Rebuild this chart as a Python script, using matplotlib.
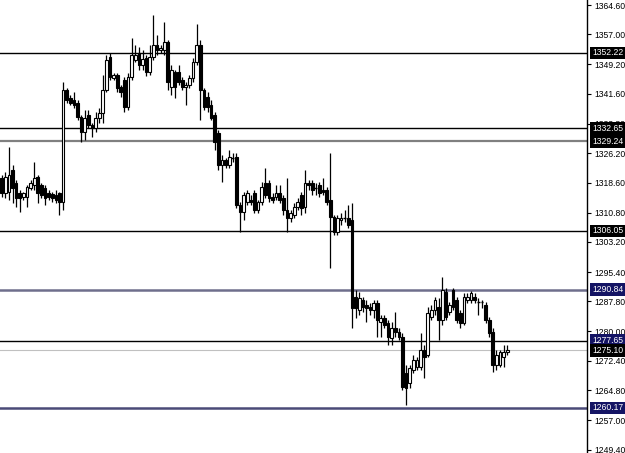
import numpy as np
import matplotlib
matplotlib.use("Agg")
import matplotlib.pyplot as plt
from matplotlib.patches import Rectangle
import matplotlib.transforms as mtransforms

plt.rcParams['font.family'] = ['Liberation Sans', 'DejaVu Sans']

# candle data (prices)
opens = [1319.8, 1315.9, 1316.2, 1321.9, 1318.5, 1315.9, 1314.9, 1314.9, 1317.2, 1318.0,
         1320.1, 1318.0, 1317.2, 1315.9, 1315.7, 1315.4, 1315.9, 1313.6, 1342.6, 1340.5,
         1340.0, 1339.2, 1335.6, 1331.7, 1336.1, 1333.5, 1332.7, 1335.3, 1336.6, 1342.6,
         1351.1, 1345.7, 1346.5, 1343.4, 1345.2, 1338.2, 1346.0, 1350.4, 1352.2, 1349.1,
         1350.9, 1347.3, 1351.1, 1354.2, 1352.9, 1352.9, 1355.0, 1343.4, 1347.3, 1347.3,
         1345.2, 1343.4, 1343.9, 1345.7, 1349.8, 1354.2, 1342.6, 1340.8, 1338.7, 1336.1,
         1331.5, 1323.2, 1324.4, 1323.2, 1325.0, 1325.2, 1312.8, 1311.0, 1313.6, 1314.1,
         1315.9, 1311.5, 1313.6, 1318.5, 1318.5, 1314.9, 1314.9, 1315.9, 1314.6, 1311.5,
         1309.4, 1310.2, 1312.3, 1315.4, 1312.3, 1318.5, 1318.5, 1317.2, 1318.0, 1316.7,
         1316.7, 1314.1, 1309.7, 1305.8, 1308.9, 1309.4, 1309.4, 1308.9, 1289.0, 1285.6,
         1288.2, 1286.9, 1286.4, 1285.6, 1287.4, 1282.5, 1283.5, 1282.2, 1278.3, 1280.9,
         1279.9, 1278.6, 1269.3, 1266.7, 1270.0, 1270.8, 1270.8, 1275.2, 1274.0, 1283.8,
         1285.6, 1286.4, 1283.0, 1290.3, 1285.1, 1290.8, 1288.2, 1284.8, 1282.2, 1288.2,
         1288.2, 1289.0, 1287.7, 1287.7, 1286.9, 1283.0, 1279.9, 1271.4, 1271.4, 1273.4,
         1274.7]
highs = [1320.6, 1321.3, 1327.8, 1323.2, 1319.3, 1316.7, 1316.2, 1318.0, 1319.3, 1323.9,
         1320.6, 1318.5, 1318.0, 1316.7, 1316.2, 1316.7, 1316.2, 1344.7, 1343.1, 1341.3,
         1342.1, 1340.0, 1336.1, 1337.4, 1337.4, 1334.0, 1336.9, 1337.9, 1346.5, 1351.7,
         1352.2, 1347.0, 1347.0, 1343.9, 1346.0, 1347.0, 1356.1, 1354.2, 1353.7, 1352.9,
         1351.7, 1354.2, 1362.0, 1356.8, 1354.2, 1360.2, 1355.5, 1349.1, 1347.8, 1349.1,
         1346.0, 1344.7, 1346.5, 1350.9, 1359.7, 1355.5, 1343.1, 1342.1, 1340.0, 1336.9,
         1332.2, 1325.8, 1325.0, 1327.0, 1326.3, 1326.3, 1313.6, 1316.2, 1316.7, 1315.4,
         1316.7, 1314.1, 1318.8, 1322.4, 1319.3, 1315.9, 1318.0, 1318.0, 1315.4, 1319.8,
         1311.5, 1313.3, 1314.6, 1316.2, 1321.9, 1319.3, 1319.3, 1318.5, 1318.8, 1319.8,
         1317.5, 1326.3, 1310.2, 1310.2, 1310.7, 1311.5, 1312.8, 1313.3, 1290.8, 1290.3,
         1289.0, 1288.2, 1287.4, 1288.2, 1288.2, 1284.3, 1284.3, 1283.0, 1282.5, 1285.1,
         1280.9, 1279.6, 1271.4, 1271.4, 1274.0, 1273.4, 1279.6, 1276.5, 1286.4, 1286.9,
         1289.0, 1288.7, 1294.2, 1291.3, 1287.7, 1291.3, 1289.0, 1285.6, 1290.0, 1290.0,
         1290.5, 1290.0, 1288.7, 1288.2, 1287.7, 1283.8, 1280.9, 1275.2, 1275.2, 1276.5,
         1276.5]
lows = [1314.9, 1314.6, 1314.1, 1313.3, 1312.3, 1311.0, 1314.1, 1312.3, 1316.7, 1316.7,
        1313.3, 1314.6, 1312.8, 1314.1, 1313.6, 1313.3, 1310.2, 1311.5, 1339.2, 1338.7,
        1337.9, 1334.8, 1329.1, 1329.6, 1332.7, 1330.4, 1331.7, 1334.0, 1334.0, 1342.1,
        1345.2, 1345.2, 1342.1, 1340.8, 1336.9, 1337.4, 1345.2, 1349.8, 1347.8, 1347.8,
        1346.2, 1346.5, 1350.4, 1351.7, 1352.2, 1351.7, 1342.6, 1341.3, 1340.5, 1343.9,
        1342.6, 1338.7, 1343.1, 1344.7, 1349.1, 1334.8, 1337.4, 1336.9, 1334.8, 1327.0,
        1321.9, 1318.8, 1322.4, 1322.4, 1323.9, 1312.0, 1305.8, 1308.9, 1312.8, 1312.8,
        1310.7, 1310.7, 1312.8, 1314.6, 1313.6, 1313.3, 1314.1, 1313.3, 1310.2, 1305.8,
        1308.4, 1309.4, 1311.5, 1310.2, 1310.7, 1316.7, 1315.4, 1315.4, 1314.9, 1315.4,
        1312.8, 1296.5, 1305.0, 1305.0, 1307.6, 1308.4, 1306.8, 1280.9, 1283.5, 1284.3,
        1285.1, 1282.5, 1284.3, 1283.5, 1278.6, 1278.6, 1280.9, 1276.5, 1276.5, 1278.6,
        1277.8, 1264.9, 1261.0, 1265.4, 1269.3, 1270.0, 1270.0, 1268.0, 1273.4, 1283.0,
        1284.3, 1277.8, 1281.7, 1283.0, 1284.3, 1285.6, 1282.2, 1280.9, 1281.7, 1287.4,
        1287.4, 1287.4, 1284.3, 1286.1, 1282.2, 1278.6, 1269.6, 1270.0, 1270.8, 1270.8,
        1274.0]
closes = [1315.9, 1320.1, 1320.6, 1317.2, 1314.6, 1314.6, 1315.9, 1317.5, 1318.5, 1319.8,
          1315.9, 1315.4, 1314.6, 1314.9, 1314.6, 1314.1, 1313.6, 1342.6, 1340.0, 1339.2,
          1338.7, 1335.6, 1331.7, 1335.3, 1333.5, 1332.7, 1335.3, 1336.6, 1342.6, 1350.4,
          1346.0, 1346.5, 1343.1, 1342.1, 1338.2, 1346.0, 1351.7, 1351.7, 1349.1, 1350.6,
          1347.3, 1351.1, 1354.2, 1352.9, 1353.5, 1355.0, 1344.7, 1347.8, 1343.4, 1344.7,
          1343.4, 1343.9, 1345.7, 1349.8, 1354.2, 1342.6, 1338.2, 1338.2, 1335.3, 1329.1,
          1323.2, 1324.4, 1323.2, 1325.2, 1325.2, 1312.8, 1311.0, 1315.4, 1315.9, 1313.6,
          1311.5, 1313.6, 1317.5, 1315.4, 1314.6, 1314.1, 1315.9, 1314.1, 1311.5, 1309.4,
          1310.7, 1312.3, 1313.6, 1312.0, 1318.5, 1318.0, 1316.7, 1317.5, 1315.9, 1316.2,
          1313.6, 1309.7, 1305.8, 1309.4, 1309.4, 1309.7, 1307.6, 1286.1, 1286.1, 1288.7,
          1286.4, 1286.1, 1285.6, 1287.4, 1283.0, 1283.5, 1281.7, 1278.6, 1280.9, 1279.9,
          1278.6, 1265.7, 1265.4, 1270.6, 1272.6, 1272.6, 1275.2, 1273.4, 1284.8, 1285.6,
          1288.2, 1283.0, 1290.8, 1283.8, 1286.9, 1286.4, 1283.0, 1282.2, 1289.0, 1289.0,
          1290.0, 1288.2, 1287.4, 1287.4, 1283.0, 1279.6, 1271.4, 1274.0, 1274.7, 1274.7,
          1275.1]

# horizontal levels
levels = [1352.22, 1332.65, 1329.24, 1306.05, 1290.84, 1277.65, 1275.10, 1260.17]
level_colors = ['black', 'black', '#808080', 'black', '#6e6e8c', 'black', '#c0c0c0', '#4a4a78']
level_widths = [1.0, 1.0, 1.6, 1.0, 1.8, 1.0, 0.8, 1.8]
label_bg = ['black', 'black', 'black', 'black', '#141464', '#141464', 'black', '#141464']

yticks = [1364.60, 1357.00, 1349.20, 1341.60, 1333.80, 1326.20, 1318.60, 1310.80,
          1303.20, 1295.40, 1287.80, 1280.00, 1272.40, 1264.80, 1257.00, 1249.40]

fig = plt.figure(figsize=(6.25, 4.53), dpi=100)
ax = fig.add_axes([0.0, 0.0, 587 / 625, 1.0])

for i in range(len(levels)):
    ax.axhline(levels[i], color=level_colors[i], lw=level_widths[i], zorder=1)

w = 0.75
for i in range(len(opens)):
    o, h, l, c = opens[i], highs[i], lows[i], closes[i]
    ax.vlines(i, l, h, color='black', lw=0.9, zorder=2)
    bottom = min(o, c)
    height = abs(c - o)
    if height < 0.3:
        ax.hlines(o, i - w / 2, i + w / 2, color='black', lw=1.0, zorder=3)
        continue
    fc = 'white' if c >= o else 'black'
    ax.add_patch(Rectangle((i - w / 2, bottom), w, height, facecolor=fc,
                           edgecolor='black', lw=0.8, zorder=3))

ax.set_xlim(-0.47, 162.1)
ax.set_ylim(1248.5, 1365.9)

for s in ['top', 'left', 'bottom']:
    ax.spines[s].set_visible(False)
ax.spines['right'].set_linewidth(1.0)
ax.set_xticks([])
ax.yaxis.tick_right()
ax.set_yticks(yticks)
ax.set_yticklabels(['%.2f' % v for v in yticks])
ax.tick_params(axis='y', direction='out', length=3, width=0.8, pad=2, labelsize=6.2,
               colors='black')

trans = mtransforms.blended_transform_factory(ax.transAxes, ax.transData)
for i in range(len(levels)):
    ax.text(1.0085, levels[i], '%.2f' % levels[i], transform=trans, fontsize=6.2,
            color='white', va='center', ha='left', clip_on=False, zorder=10,
            bbox=dict(boxstyle='square,pad=0.2', facecolor=label_bg[i], edgecolor='none'))

fig.savefig('out.png', dpi=100)
